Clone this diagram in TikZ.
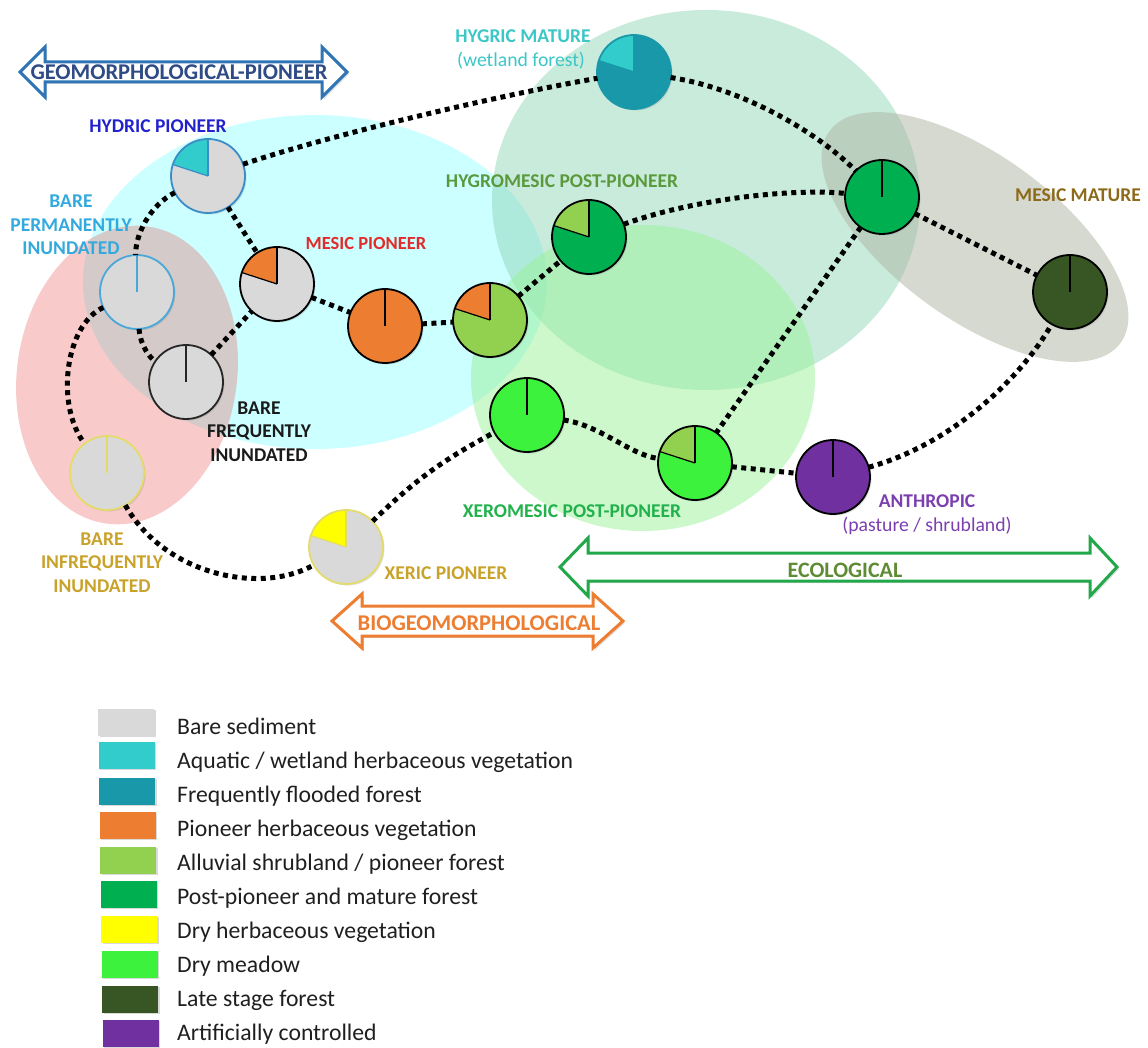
\documentclass[tikz,border=0pt]{standalone}
\usepackage{fontspec}
\setmainfont{Carlito}
\usetikzlibrary{shadows}
\definecolor{bare}{HTML}{D9D9D9}
\definecolor{aquatic}{HTML}{33CCCC}
\definecolor{flooded}{HTML}{1898A8}
\definecolor{pherb}{HTML}{ED7D31}
\definecolor{alluvial}{HTML}{92D050}
\definecolor{postp}{HTML}{00B050}
\definecolor{dryherb}{HTML}{FFFF00}
\definecolor{drymead}{HTML}{3CF23C}
\definecolor{late}{HTML}{375623}
\definecolor{artif}{HTML}{7030A0}
\definecolor{cyanbg}{HTML}{CCFFFF}
\definecolor{pinkbg}{HTML}{E85050}
\definecolor{mintbg}{HTML}{91D7B9}
\definecolor{xerobg}{HTML}{99F199}
\definecolor{graybg}{HTML}{ADB3A1}
\definecolor{hydblue}{HTML}{3C8CC8}
\definecolor{permblue}{HTML}{49A8D8}
\definecolor{infyel}{HTML}{E4DC6A}
\definecolor{geoblue}{HTML}{2E75B6}
\definecolor{geotext}{HTML}{2F4B85}
\definecolor{bioorange}{HTML}{ED7D31}
\definecolor{ecogreen}{HTML}{22A84A}
\definecolor{ecotext}{HTML}{5E8C34}
\definecolor{cHydric}{HTML}{2222CC}
\definecolor{cPerm}{HTML}{33AADD}
\definecolor{cMesic}{HTML}{E32B2B}
\definecolor{cFreq}{HTML}{1A1A1A}
\definecolor{cGold}{HTML}{C9A22A}
\definecolor{cHygric}{HTML}{3CC6C6}
\definecolor{cHygro}{HTML}{5A9A3C}
\definecolor{cMature}{HTML}{8C6A1A}
\definecolor{cXero}{HTML}{22B14C}
\definecolor{cAnthro}{HTML}{7B3FB0}
\definecolor{legtxt}{HTML}{1F1F1F}
\def\pr{37pt}
\tikzset{
  pie/.style={circle, minimum size=74pt, inner sep=0pt, outer sep=0pt,
    drop shadow={opacity=0.25, shadow xshift=1.5pt, shadow yshift=-1.5pt}},
  conn/.style={line width=5pt, dash pattern=on 5pt off 4.5pt, black},
  lbl/.style={font=\bfseries\fontsize{19.5}{23.5}\selectfont, align=center, inner sep=0pt},
  lblreg/.style={font=\fontsize{19.7}{23.5}\selectfont, inner sep=0pt},
  arrowtxt/.style={font=\bfseries\fontsize{22.5}{26}\selectfont, inner sep=0pt},
  bigarrow/.style={line width=3pt, fill=white, line join=miter,
    drop shadow={opacity=0.25, shadow xshift=2pt, shadow yshift=-2pt}},
  legsq/.style={minimum width=56pt, minimum height=27pt, inner sep=0pt,
    drop shadow={opacity=0.3, shadow xshift=1.5pt, shadow yshift=-1.5pt}},
  legtext/.style={font=\fontsize{23.7}{27}\selectfont, text=legtxt, inner sep=0pt, anchor=base west},
}
\newcommand{\mkpie}[6]{%
  \node[pie, fill=#4] (#1) at (#2,#3) {};
  \ifx\relax#5\relax\else
    \fill[#5] (#1.center) -- ++(90:\pr) arc[start angle=90, end angle=162, radius=\pr] -- cycle;
    \draw[#6, line width=1.2pt] (#1.center) ++(162:\pr) -- (#1.center);
  \fi
  \draw[#6, line width=1.2pt] (#1.center) -- ++(90:\pr);
  \draw[#6, line width=1.8pt] (#1.center) circle[radius=\pr];
}
\begin{document}
\begin{tikzpicture}[x=1pt,y=-1pt]
\useasboundingbox (0,0) rectangle (1148,1048);
% background zones
\fill[cyanbg] (315,282) ellipse[x radius=232pt, y radius=167pt];
\fill[pinkbg, opacity=0.3, rotate around={-8:(127,375)}] (127,375) ellipse[x radius=110pt, y radius=150pt];
\fill[mintbg, opacity=0.5] (706,200) ellipse[x radius=214pt, y radius=190pt];
\fill[xerobg, opacity=0.5] (643,378) ellipse[x radius=172pt, y radius=153pt];
\fill[graybg, opacity=0.5, rotate around={-36:(975,237)}] (975,237) ellipse[x radius=180pt, y radius=82pt];

% pies
\mkpie{hp}{208}{176}{bare}{aquatic}{hydblue}
\mkpie{bp}{137}{292}{bare}{}{permblue}
\mkpie{mp}{277}{284}{bare}{pherb}{black}
\mkpie{bf}{186}{382}{bare}{}{black!85}
\mkpie{bi}{107}{473}{bare}{}{infyel}
\mkpie{of}{385}{326}{pherb}{}{black}
\mkpie{ol}{490}{320}{alluvial}{pherb}{black}
\mkpie{hy}{589}{237}{postp}{alluvial}{black}
\mkpie{hm}{634}{72}{flooded}{aquatic}{flooded}
\mkpie{gm}{882}{197}{postp}{}{black}
\mkpie{mm}{1070}{292}{late}{}{black}
\mkpie{xm}{527}{415}{drymead}{}{black}
\mkpie{dm}{695}{463}{drymead}{alluvial}{black}
\mkpie{an}{833}{477}{artif}{}{black}
\mkpie{xp}{346}{547}{bare}{dryherb}{infyel}

% connectors
\draw[conn] (hp) .. controls (330,135) and (500,95) .. (hm);
\draw[conn] (hm) .. controls (740,88) and (815,130) .. (gm);
\draw[conn] (hp) .. controls (150,205) and (135,235) .. (bp);
\draw[conn] (hp) -- (mp);
\draw[conn] (bp) .. controls (140,345) and (150,358) .. (bf);
\draw[conn] (bf) -- (mp);
\draw[conn] (bp) .. controls (65,325) and (55,405) .. (bi);
\draw[conn] (bi) .. controls (165,575) and (260,595) .. (xp);
\draw[conn] (mp) -- (of);
\draw[conn] (of) -- (ol);
\draw[conn] (ol) -- (hy);
\draw[conn] (hy) .. controls (690,200) and (790,188) .. (gm);
\draw[conn] (gm) -- (mm);
\draw[conn] (gm) -- (dm);
\draw[conn] (xp) to[bend left=8] (xm);
\draw[conn] (xm) .. controls (600,425) and (630,455) .. (dm);
\draw[conn] (dm) -- (an);
\draw[conn] (an) .. controls (950,445) and (1020,380) .. (mm);

% labels
\node[lbl, text=cHydric, anchor=base] (lhp) at (158,133) {HYDRIC PIONEER};
\node[lbl, text=cPerm, anchor=base] (lbp) at (71,255) {BARE\\PERMANENTLY\\INUNDATED};
\node[lbl, font=\bfseries\fontsize{18.5}{23.5}\selectfont, text=cMesic, anchor=base] (lmp) at (366,250) {MESIC PIONEER};
\node[lbl, text=cFreq, anchor=base] (lbf) at (259,461) {BARE\\FREQUENTLY\\INUNDATED};
\node[lbl, text=cGold, anchor=base] (lbi) at (102,592) {BARE\\INFREQUENTLY\\INUNDATED};
\node[lbl, text=cGold, anchor=base] (lxp) at (446,579) {XERIC PIONEER};
\node[lbl, text=cHygric, anchor=base] (lhm) at (523,43) {HYGRIC MATURE};
\node[lblreg, text=cHygric, anchor=base] (lhm2) at (521,67) {(wetland forest)};
\node[lbl, text=cHygro, anchor=base] (lhy) at (562,188) {HYGROMESIC POST-PIONEER};
\node[lbl, text=cMature, anchor=base west] (lmm) at (1015,202) {MESIC MATURE};
\node[lbl, text=cXero, anchor=base] (lxm) at (572,517) {XEROMESIC POST-PIONEER};
\node[lbl, text=cAnthro, anchor=base] (lan) at (927,507) {ANTHROPIC};
\node[lblreg, text=cAnthro, anchor=base] (lan2) at (927,531) {(pasture / shrubland)};

% double arrows
\draw[bigarrow, draw=geoblue] (20,72) -- (45,47) -- (45,62) -- (322,62) -- (322,47) -- (347,72)
  -- (322,97) -- (322,82) -- (45,82) -- (45,97) -- cycle;
\node[arrowtxt, text=geotext, anchor=base] (tgeo) at (179,80) {GEOMORPHOLOGICAL-PIONEER};
\draw[bigarrow, draw=bioorange] (332,621) -- (362,594) -- (362,606) -- (593,606) -- (593,594) -- (623,621)
  -- (593,648) -- (593,636) -- (362,636) -- (362,648) -- cycle;
\node[arrowtxt, text=bioorange, anchor=base] (tbio) at (479,630) {BIOGEOMORPHOLOGICAL};
\draw[bigarrow, draw=ecogreen] (560,567) -- (588,538) -- (588,553) -- (1090,553) -- (1090,538) -- (1117,567)
  -- (1090,596) -- (1090,581) -- (588,581) -- (588,596) -- cycle;
\node[arrowtxt, font=\bfseries\fontsize{22}{26}\selectfont, text=ecotext, anchor=base] (teco) at (845,577) {ECOLOGICAL};

% legend
\node[legsq, fill=bare] (q1) at (126,722) {};
\node[legsq, fill=aquatic] (q2) at (126.5,755) {};
\node[legsq, fill=flooded] (q3) at (127,791) {};
\node[legsq, fill=pherb] (q4) at (127.5,825) {};
\node[legsq, fill=alluvial] (q5) at (128,860) {};
\node[legsq, fill=postp] (q6) at (128.5,894) {};
\node[legsq, fill=dryherb] (q7) at (129,929) {};
\node[legsq, fill=drymead] (q8) at (129.5,964) {};
\node[legsq, fill=late] (q9) at (130,999) {};
\node[legsq, fill=artif] (q10) at (130.5,1033) {};
\node[legtext] (e1) at (177,734) {Bare sediment};
\node[legtext] (e2) at (177,768) {Aquatic / wetland herbaceous vegetation};
\node[legtext] (e3) at (177,802) {Frequently flooded forest};
\node[legtext] (e4) at (177,836) {Pioneer herbaceous vegetation};
\node[legtext] (e5) at (177,870) {Alluvial shrubland / pioneer forest};
\node[legtext] (e6) at (177,904) {Post-pioneer and mature forest};
\node[legtext] (e7) at (177,938) {Dry herbaceous vegetation};
\node[legtext] (e8) at (177,972) {Dry meadow};
\node[legtext] (e9) at (177,1006) {Late stage forest};
\node[legtext] (e10) at (177,1040) {Artificially controlled};
\end{tikzpicture}
\end{document}
